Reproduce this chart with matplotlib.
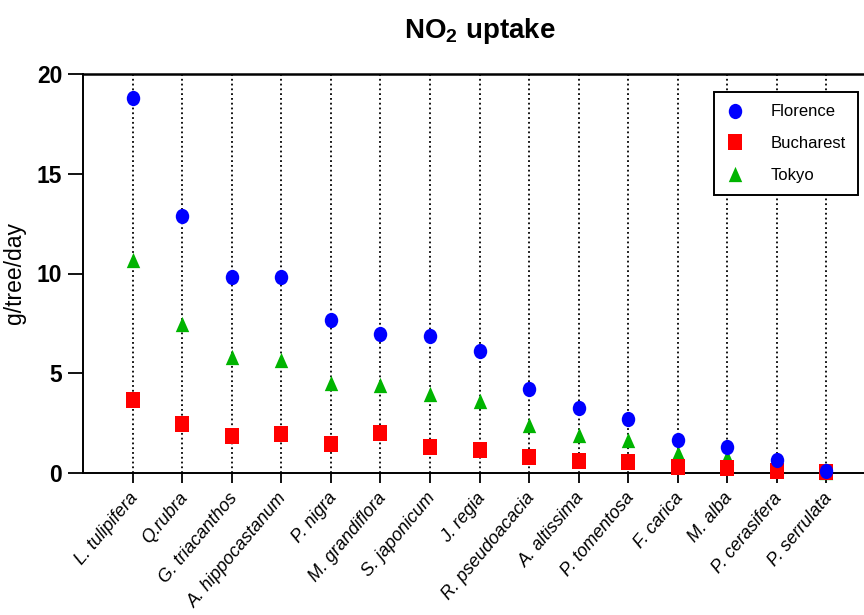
import matplotlib
matplotlib.use("Agg")
import matplotlib.pyplot as plt
import numpy as np
from matplotlib.path import Path
from matplotlib.transforms import Affine2D, ScaledTranslation
from matplotlib.lines import Line2D
from matplotlib import font_manager

plt.rcParams['font.family'] = ['Liberation Sans', 'DejaVu Sans']
plt.rcParams['mathtext.fontset'] = 'custom'
plt.rcParams['mathtext.rm'] = 'Liberation Sans'
plt.rcParams['mathtext.bf'] = 'Liberation Sans:bold'

names = {f.name for f in font_manager.fontManager.ttflist}
narrow = 'Liberation Sans Narrow' if 'Liberation Sans Narrow' in names else 'Liberation Sans'

species = ["L. tulipifera", "Q.rubra", "G. triacanthos", "A. hippocastanum", "P. nigra",
           "M. grandiflora", "S. japonicum", "J. regia", "R. pseudoacacia", "A. altissima",
           "P. tomentosa", "F. carica", "M. alba", "P. cerasifera", "P. serrulata"]
florence = [18.8, 12.87, 9.83, 9.83, 7.68, 6.98, 6.85, 6.12, 4.2, 3.28, 2.73, 1.65, 1.28, 0.63, 0.12]
bucharest = [3.68, 2.48, 1.83, 1.95, 1.43, 2.0, 1.32, 1.15, 0.82, 0.62, 0.53, 0.32, 0.25, 0.12, 0.03]
tokyo = [10.7, 7.45, 5.8, 5.65, 4.5, 4.43, 3.98, 3.62, 2.43, 1.9, 1.65, 1.0, 0.8, 0.3, 0.05]
yticks = [0, 5, 10, 15, 20]

sx = 0.88
circ = Affine2D().scale(sx, 1.0).transform_path(Path.unit_circle())
sq = Path([(-sx, -1), (sx, -1), (sx, 1), (-sx, 1), (-sx, -1)],
          [Path.MOVETO, Path.LINETO, Path.LINETO, Path.LINETO, Path.CLOSEPOLY])
tri = Path([(0, 1), (-sx, -1), (sx, -1), (0, 1)],
           [Path.MOVETO, Path.LINETO, Path.LINETO, Path.CLOSEPOLY])

fig = plt.figure(figsize=(8.64, 6.15), dpi=100)
W, H = 864, 615
ax = fig.add_axes([83 / W, 1 - 473 / H, (876 - 83) / W, (473 - 74) / H])

x = np.arange(len(species))
ax.vlines(x, 0, 20, colors='black', linestyles=':', linewidth=1.3, zorder=1)

ms = 11
series = [(florence, 'Florence', '#0000FF', circ, 5),
          (bucharest, 'Bucharest', '#FF0000', sq, 4),
          (tokyo, 'Tokyo', '#00B400', tri, 3)]
handles = []
for vals, name, col, mk, z in series:
    ax.plot(x, vals, linestyle='none', marker=mk, markersize=ms, color=col,
            markeredgewidth=0, zorder=z, clip_on=False)
    handles.append(Line2D([], [], linestyle='none', marker=mk, markersize=ms, color=col,
                          markeredgewidth=0, label=name))

ax.set_xlim(-1, 15)
ax.set_ylim(0, 20)
ax.set_yticks(yticks)
ax.set_yticklabels([str(v) for v in yticks], fontsize=16.5, fontweight='bold',
                   family=[narrow, 'DejaVu Sans'])
ax.set_xticks(x)
ax.set_xticklabels(species, fontsize=13, style='italic', rotation=50,
                   ha='right', va='top', rotation_mode='anchor')
ax.set_xticks([4, 9], minor=True)
ax.tick_params(axis='x', which='major', length=7, width=1.3, pad=5, color='black')
ax.tick_params(axis='x', which='minor', length=14, width=1.3, color='black')
ax.tick_params(axis='y', which='major', length=11, width=1.3, pad=4)
offset = ScaledTranslation(-4 / 100, 0, fig.dpi_scale_trans)
for lbl in ax.get_xticklabels():
    lbl.set_transform(lbl.get_transform() + offset)

for s in ['left', 'bottom', 'top', 'right']:
    ax.spines[s].set_linewidth(1.4)
    ax.spines[s].set_color('black')
ax.spines['top'].set_linewidth(1.8)

ax.set_ylabel('g/tree/day', fontsize=16.5, labelpad=8)
ax.set_title(r'NO$_\mathbf{2}$ uptake', fontsize=20, fontweight='bold', pad=26)

leg = ax.legend(handles=handles, loc='upper right',
                bbox_to_anchor=(858 / W, 1 - 92 / H), bbox_transform=fig.transFigure,
                fontsize=12, frameon=True, fancybox=False, framealpha=1,
                edgecolor='black', handlelength=1.0, handletextpad=1.6,
                labelspacing=1.0, borderpad=0.75, borderaxespad=0)
leg.get_frame().set_linewidth(1.4)

fig.savefig('out.png', dpi=100)
